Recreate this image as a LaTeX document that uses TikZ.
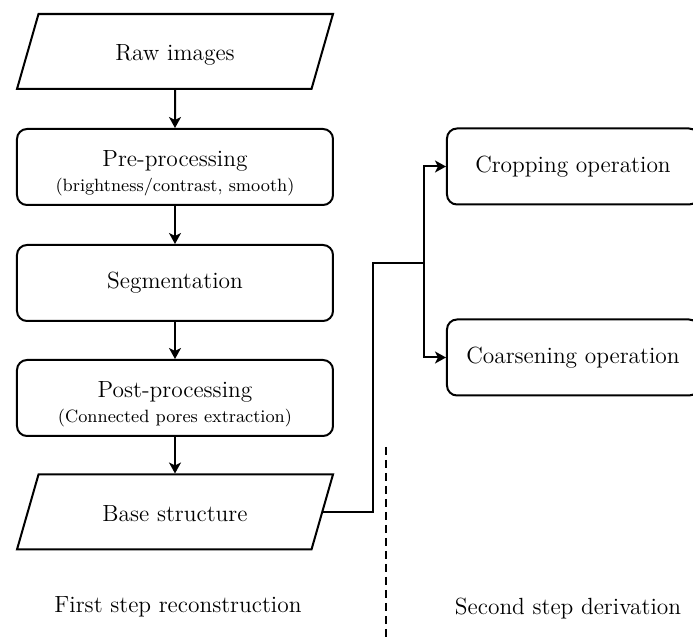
\documentclass[tikz,border=0pt]{standalone}
\usetikzlibrary{shapes.geometric,arrows.meta}
\newcommand{\bw}{158pt}
\newcommand{\bh}{38pt}
\newcommand{\subfont}{\fontsize{8.9}{10}\selectfont}

\begin{document}
\begin{tikzpicture}[x=0.5pt, y=-0.5pt,
    line width=1pt, font=\fontsize{11.7}{14}\selectfont,
    rect/.style={draw, rectangle, rounded corners=5pt, minimum width=\bw, minimum height=\bh, inner sep=0pt, align=center},
    para/.style={draw, trapezium, trapezium left angle=74, trapezium right angle=106, trapezium stretches body, minimum width=\bw, text height=12pt, text depth=2.5pt, inner xsep=0pt, inner ysep=11.5pt},
    arr/.style={-{Stealth[length=5.5pt, width=6pt, inset=1.5pt]}}]
    \useasboundingbox (0,0) rectangle (693,637);

    % First step
    \node[para] (raw) at (175,51.5) {Raw images};
    \node[rect] (pre) at (175,167) {\rule{0pt}{14pt}Pre-processing\\[-1.5pt] {\subfont (brightness/contrast, smooth)}};
    \node[rect] (seg) at (175,283) {Segmentation};
    \node[rect] (post) at (175,398) {\rule{0pt}{14pt}Post-processing\\[-1.5pt] {\subfont (Connected pores extraction)}};
    \node[para] (base) at (175,512) {Base structure};

    % Second step
    \node[rect, minimum width=126pt] (crop) at (573,166.5) {Cropping operation};
    \node[rect, minimum width=126pt] (coarse) at (573,357.5) {Coarsening operation};

    \draw[arr] (raw) -- (pre);
    \draw[arr] (pre) -- (seg);
    \draw[arr] (seg) -- (post);
    \draw[arr] (post) -- (base);

    \coordinate (bend) at (373,263);
    \coordinate (split) at (424,263);
    \draw (base.east) -| (bend) -- (split);
    \draw[arr] (split) |- (crop.west);
    \draw[arr] (split) |- (coarse.west);

    % divider and captions
    \coordinate (div-top) at (386,447);
    \coordinate (div-bot) at (386,637);
    \draw[dash pattern=on 4pt off 2.5pt] (div-top) -- (div-bot);
    \node (cap-1) at (178,607) {First step reconstruction};
    \node (cap-2) at (568,609) {Second step derivation};

\end{tikzpicture}
\end{document}
